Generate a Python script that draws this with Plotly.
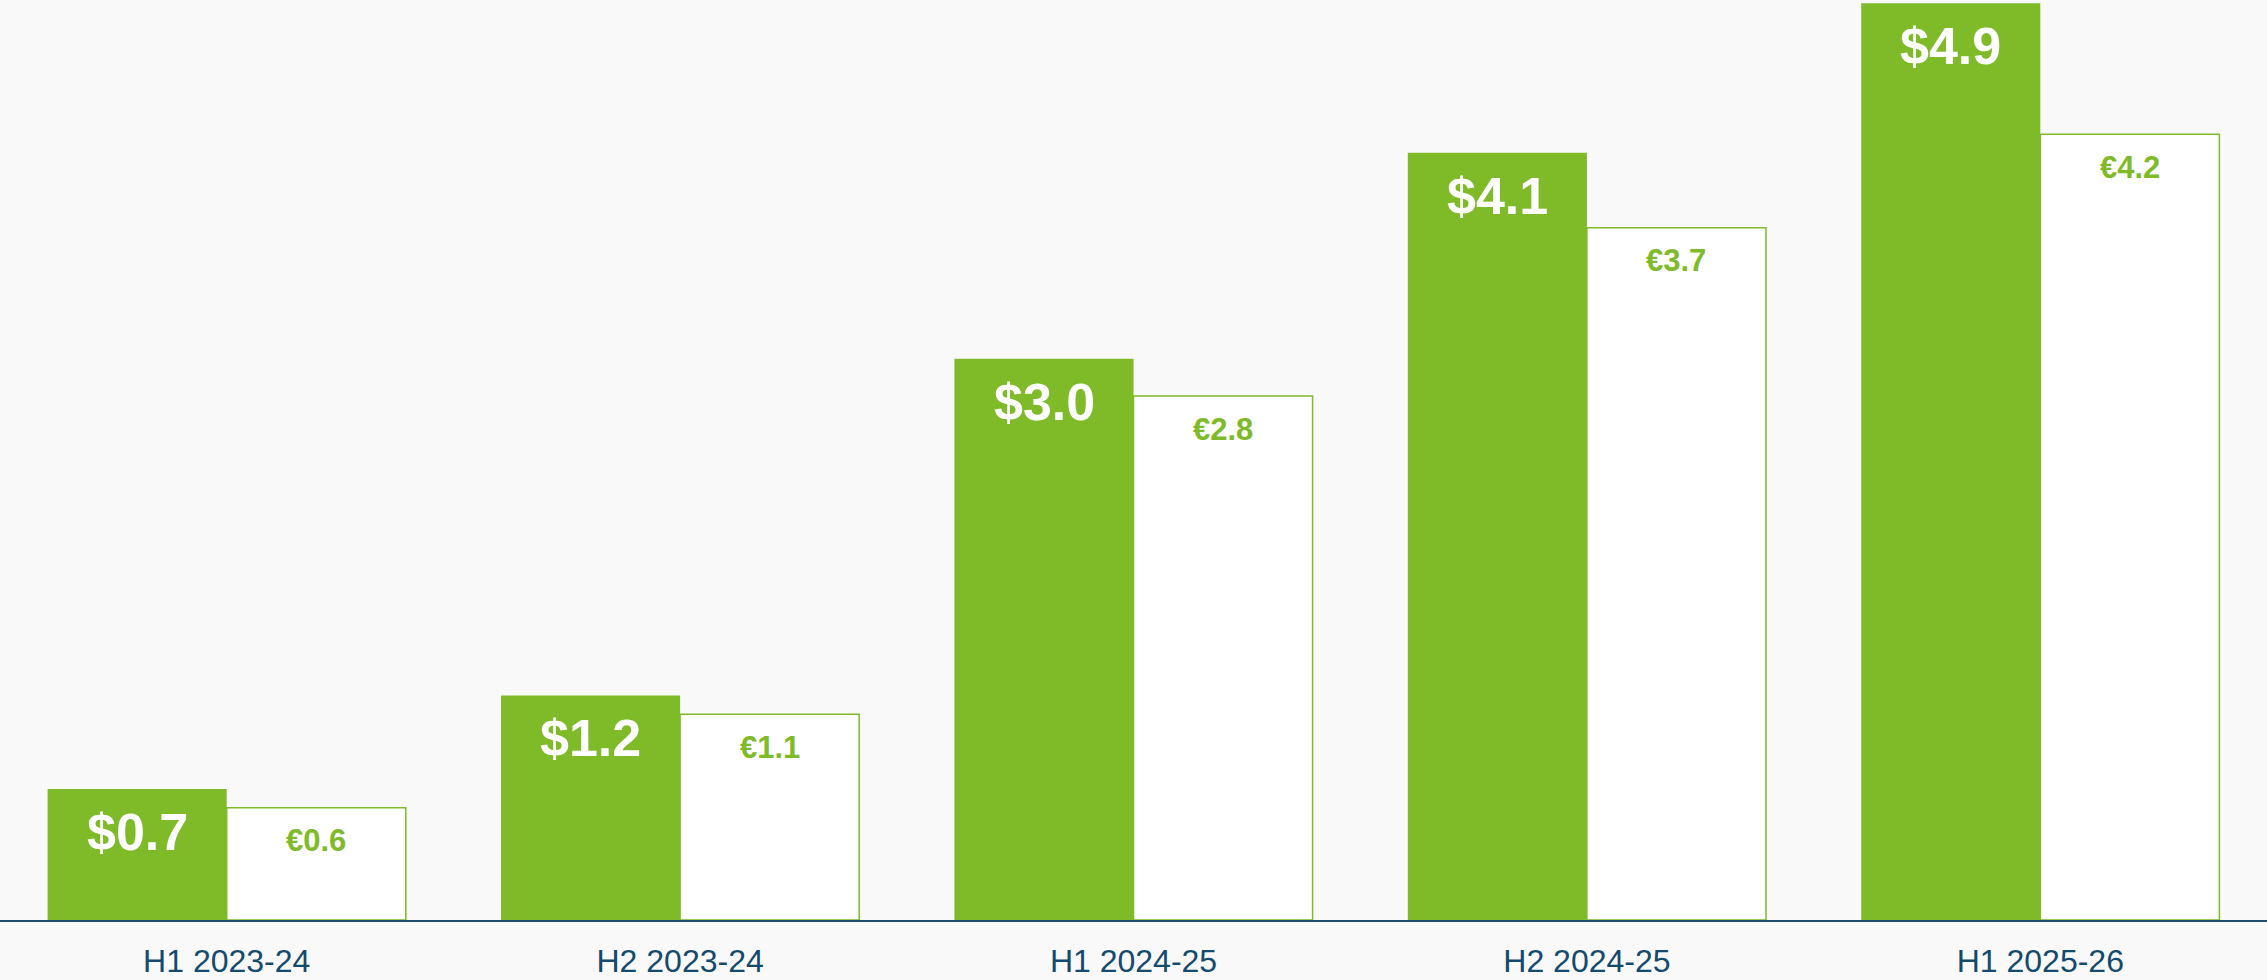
"""Half-year bars: USD vs EUR."""
import plotly.graph_objects as go

GREEN = "#7FBA28"
NAVY = "#134A6E"
BG = "#F9F9F9"
FONT = "Liberation Sans, Arial, sans-serif"

periods = ["H1 2023-24", "H2 2023-24", "H1 2024-25", "H2 2024-25", "H1 2025-26"]
usd = [0.7, 1.2, 3.0, 4.1, 4.9]
eur = [0.6, 1.1, 2.8, 3.7, 4.2]

fig = go.Figure()
fig.add_bar(
    x=periods, y=usd, name="USD",
    marker=dict(color=GREEN, line=dict(width=0)),
)
fig.add_bar(
    x=periods, y=eur, name="EUR",
    marker=dict(color="white", line=dict(color=GREEN, width=1.5)),
)

# value labels sit a little below each bar top, centred on its bar
for p, u, e in zip(periods, usd, eur):
    fig.add_annotation(
        x=p, y=u, text=f"<b>${u:.1f}</b>", showarrow=False,
        xshift=-89.5, yshift=-43, yanchor="middle",
        font=dict(family=FONT, size=52, color="white"),
    )
    fig.add_annotation(
        x=p, y=e, text=f"<b>€{e:.1f}</b>", showarrow=False,
        xshift=89.5, yshift=-33, yanchor="middle",
        font=dict(family=FONT, size=31, color=GREEN),
    )

fig.update_layout(
    width=2267, height=980,
    barmode="group", bargap=0.21, bargroupgap=0,
    paper_bgcolor=BG, plot_bgcolor=BG,
    margin=dict(l=0, r=0, t=0, b=60),
    showlegend=False,
    font=dict(family=FONT, color=NAVY),
)
fig.update_xaxes(
    showline=True, linecolor="#1F4E6E", linewidth=2, showgrid=False,
    tickfont=dict(size=32, color=NAVY), ticks="", ticklabelstandoff=12,
)
fig.update_yaxes(range=[0, 4.917], visible=False, showgrid=False)

fig.write_html(
    "out.html",
    config={"displayModeBar": False},
    post_script="document.body.style.margin='0';",
)
